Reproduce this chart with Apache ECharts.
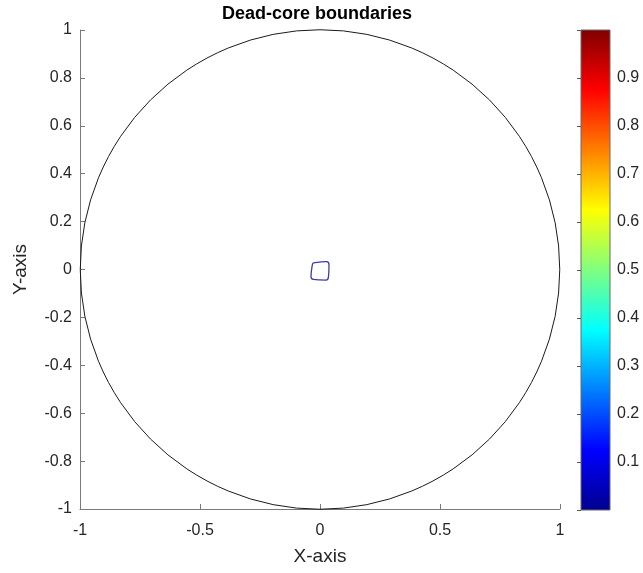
<!DOCTYPE html>
<html>
<head>
<meta charset="utf-8">
<script src="https://cdn.jsdelivr.net/npm/echarts@6/dist/echarts.min.js"></script>
<style>
  html, body { margin: 0; padding: 0; background: #fff; }
  #chart { width: 643px; height: 573px; }
</style>
</head>
<body>
<div id="chart"></div>
<script>
// outer boundary: centre x, centre y, radius
var boundary = [[0, 0, 1]];

// dead-core contour
var coreX = [-0.028, 0.028, 0.0375, 0.035, 0.025, -0.028, -0.0375, -0.032, -0.028];
var coreY = [0.028, 0.033, 0.019, -0.033, -0.044, -0.041, -0.030, 0.019, 0.028];

var axisTicks = [-1, -0.5, 0, 0.5, 1];
var yTicks = [-1, -0.8, -0.6, -0.4, -0.2, 0, 0.2, 0.4, 0.6, 0.8, 1];
var colorbarRange = [0, 1];
var colorbarTicks = [0.1, 0.2, 0.3, 0.4, 0.5, 0.6, 0.7, 0.8, 0.9];

var jet = [
  { offset: 0, color: '#00008f' },
  { offset: 0.125, color: '#0000ff' },
  { offset: 0.375, color: '#00ffff' },
  { offset: 0.625, color: '#ffff00' },
  { offset: 0.875, color: '#ff0000' },
  { offset: 1, color: '#800000' }
];

var textColor = '#262626';
var lineColor = '#7a7a7a';
var font = 'Liberation Sans, Arial, sans-serif';

var corePoints = coreX.map(function(x, i) { return [x, coreY[i]]; });

var chart = echarts.init(document.getElementById('chart'));

chartSettings = {
  animation: false,
  title: {
    text: 'Dead-core boundaries',
    left: 312, top: 0, textAlign: 'center',
    textStyle: { fontFamily: font, fontSize: 18, fontWeight: 'bold', color: '#000' }
  },
  grid: [
    { left: 80, top: 30, width: 480, height: 479 },
    { left: 581, top: 30, width: 29, height: 480 }
  ],
  xAxis: [{
    gridIndex: 0, type: 'value', min: -1, max: 1, interval: 0.5,
    name: 'X-axis', nameLocation: 'middle', nameGap: 38,
    nameTextStyle: { fontFamily: font, fontSize: 19, color: textColor },
    axisLine: { onZero: false, lineStyle: { color: lineColor } },
    axisTick: { inside: true, length: 5, lineStyle: { color: lineColor } },
    axisLabel: { fontFamily: font, fontSize: 16, color: textColor, margin: 14,
      formatter: function(v) { return axisTicks.indexOf(v) >= 0 ? String(v) : ''; } },
    splitLine: { show: false }
  }, {
    gridIndex: 1, type: 'value', min: 0, max: 1, show: false
  }],
  yAxis: [{
    gridIndex: 0, type: 'value', min: -1, max: 1, interval: 0.2,
    name: 'Y-axis', nameLocation: 'middle', nameGap: 50,
    nameTextStyle: { fontFamily: font, fontSize: 19, color: textColor },
    axisLine: { onZero: false, lineStyle: { color: lineColor } },
    axisTick: { inside: true, length: 5, lineStyle: { color: lineColor } },
    axisLabel: { fontFamily: font, fontSize: 16, color: textColor, margin: 8,
      formatter: function(v) {
        var r = Math.round(v * 10) / 10;
        return yTicks.indexOf(r) >= 0 ? String(r) : '';
      } },
    splitLine: { show: false }
  }, {
    gridIndex: 1, type: 'value', position: 'right',
    min: colorbarRange[0], max: colorbarRange[1], interval: 0.1,
    axisLine: { show: false },
    axisTick: { inside: true, length: 4, lineStyle: { color: '#555' } },
    axisLabel: { fontFamily: font, fontSize: 16, color: textColor, margin: 7,
      formatter: function(v) {
        var r = Math.round(v * 10) / 10;
        return colorbarTicks.indexOf(r) >= 0 ? String(r) : '';
      } },
    splitLine: { show: false }
  }],
  series: [{
    type: 'custom',
    xAxisIndex: 0, yAxisIndex: 0,
    data: boundary,
    silent: true,
    renderItem: function(params, api) {
      var c = api.coord([api.value(0), api.value(1)]);
      var s = api.size([api.value(2), api.value(2)]);
      return {
        type: 'circle',
        shape: { cx: c[0], cy: c[1], r: (s[0] + s[1]) / 2 },
        style: { fill: 'none', stroke: '#1a1a1a', lineWidth: 1 }
      };
    }
  }, {
    type: 'line',
    xAxisIndex: 0, yAxisIndex: 0,
    data: corePoints,
    smooth: 0.4,
    symbol: 'none',
    silent: true,
    lineStyle: { color: '#3c3ca8', width: 1.3 }
  }, {
    type: 'custom',
    xAxisIndex: 1, yAxisIndex: 1,
    data: [[0, colorbarRange[0], 1, colorbarRange[1]]],
    silent: true,
    renderItem: function(params, api) {
      var p0 = api.coord([api.value(0), api.value(1)]);
      var p1 = api.coord([api.value(2), api.value(3)]);
      return {
        type: 'rect',
        shape: { x: p0[0], y: p1[1], width: p1[0] - p0[0], height: p0[1] - p1[1] },
        style: {
          fill: new echarts.graphic.LinearGradient(0, 1, 0, 0, jet),
          stroke: '#6a6a6a', lineWidth: 1
        }
      };
    }
  }]
};

chart.setOption(chartSettings);
</script>
</body>
</html>
